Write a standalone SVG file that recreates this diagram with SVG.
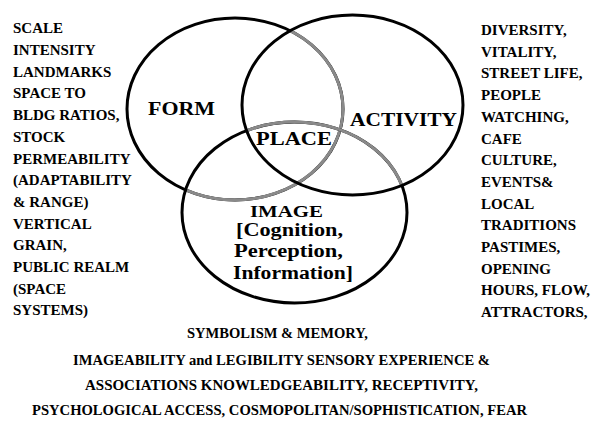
<svg xmlns="http://www.w3.org/2000/svg" width="595" height="426" viewBox="0 0 595 426">
<style>
.ring{fill:none;stroke:#000;stroke-width:3}
.gray{fill:none;stroke:#8a8a8a;stroke-width:3}
</style>
<rect width="595" height="426" fill="#fff"/>
<g id="form">
<path class="ring" d="M127,109 A108,91 0 1 0 343,109 A108,91 0 1 0 127,109 Z"/>
<path class="gray" d="M289.97,30.68 A108,91 0 0 1 185.63,189.94"/>
<text font-family="Liberation Serif" font-weight="bold" font-size="18" x="148" y="115" textLength="67" lengthAdjust="spacingAndGlyphs">FORM</text>
</g>
<g id="image">
<path class="ring" d="M182,212.5 A112.5,90.5 0 1 0 407,212.5 A112.5,90.5 0 1 0 182,212.5 Z"/>
<path class="gray" d="M246.6,130.61 A112.5,90.5 0 0 1 401.8,185.3"/>
<text font-family="Liberation Serif" font-weight="bold" font-size="17" x="250" y="217" textLength="73" lengthAdjust="spacingAndGlyphs">IMAGE</text>
<text font-family="Liberation Serif" font-weight="bold" font-size="18" x="236" y="235.5" textLength="107" lengthAdjust="spacingAndGlyphs">[Cognition,</text>
<text font-family="Liberation Serif" font-weight="bold" font-size="18" x="234" y="257" textLength="109" lengthAdjust="spacingAndGlyphs">Perception,</text>
<text font-family="Liberation Serif" font-weight="bold" font-size="18" x="233" y="279" textLength="120" lengthAdjust="spacingAndGlyphs">Information]</text>
</g>
<g id="activity">
<path class="ring" d="M242,105 A110.5,90 0 1 0 463,105 A110.5,90 0 1 0 242,105 Z"/>
<text font-family="Liberation Serif" font-weight="bold" font-size="19" x="350" y="126" textLength="107" lengthAdjust="spacingAndGlyphs">ACTIVITY</text>
</g>
<g id="place">
<text font-family="Liberation Serif" font-weight="bold" font-size="18" x="256" y="145" textLength="76" lengthAdjust="spacingAndGlyphs">PLACE</text>
</g>
<g id="connectors"></g>
<g id="form-list">
<text font-family="Liberation Serif" font-weight="bold" font-size="15" x="13" y="33.3">SCALE</text>
<text font-family="Liberation Serif" font-weight="bold" font-size="15" x="13" y="55">INTENSITY</text>
<text font-family="Liberation Serif" font-weight="bold" font-size="15" x="13" y="76.7">LANDMARKS</text>
<text font-family="Liberation Serif" font-weight="bold" font-size="15" x="13" y="98.4">SPACE TO</text>
<text font-family="Liberation Serif" font-weight="bold" font-size="15" x="13" y="120.1">BLDG RATIOS,</text>
<text font-family="Liberation Serif" font-weight="bold" font-size="15" x="13" y="141.8">STOCK</text>
<text font-family="Liberation Serif" font-weight="bold" font-size="15" x="13" y="163.5">PERMEABILITY</text>
<text font-family="Liberation Serif" font-weight="bold" font-size="15" x="13" y="185.2">(ADAPTABILITY</text>
<text font-family="Liberation Serif" font-weight="bold" font-size="15" x="13" y="206.9">&amp; RANGE)</text>
<text font-family="Liberation Serif" font-weight="bold" font-size="15" x="13" y="228.6">VERTICAL</text>
<text font-family="Liberation Serif" font-weight="bold" font-size="15" x="13" y="250.3">GRAIN,</text>
<text font-family="Liberation Serif" font-weight="bold" font-size="15" x="13" y="272">PUBLIC REALM</text>
<text font-family="Liberation Serif" font-weight="bold" font-size="15" x="13" y="293.7">(SPACE</text>
<text font-family="Liberation Serif" font-weight="bold" font-size="15" x="13" y="315">SYSTEMS)</text>
</g>
<g id="activity-list">
<text font-family="Liberation Serif" font-weight="bold" font-size="15" x="481" y="35">DIVERSITY,</text>
<text font-family="Liberation Serif" font-weight="bold" font-size="15" x="481" y="56.7">VITALITY,</text>
<text font-family="Liberation Serif" font-weight="bold" font-size="15" x="481" y="78.4">STREET LIFE,</text>
<text font-family="Liberation Serif" font-weight="bold" font-size="15" x="481" y="100.1">PEOPLE</text>
<text font-family="Liberation Serif" font-weight="bold" font-size="15" x="481" y="121.8">WATCHING,</text>
<text font-family="Liberation Serif" font-weight="bold" font-size="15" x="481" y="143.5">CAFE</text>
<text font-family="Liberation Serif" font-weight="bold" font-size="15" x="481" y="165.2">CULTURE,</text>
<text font-family="Liberation Serif" font-weight="bold" font-size="15" x="481" y="186.9">EVENTS&amp;</text>
<text font-family="Liberation Serif" font-weight="bold" font-size="15" x="481" y="208.6">LOCAL</text>
<text font-family="Liberation Serif" font-weight="bold" font-size="15" x="481" y="230.3">TRADITIONS</text>
<text font-family="Liberation Serif" font-weight="bold" font-size="15" x="481" y="252">PASTIMES,</text>
<text font-family="Liberation Serif" font-weight="bold" font-size="15" x="481" y="273.7">OPENING</text>
<text font-family="Liberation Serif" font-weight="bold" font-size="15" x="481" y="295.4">HOURS, FLOW,</text>
<text font-family="Liberation Serif" font-weight="bold" font-size="15" x="481" y="317.1">ATTRACTORS,</text>
</g>
<g id="image-list">
<text font-family="Liberation Serif" font-weight="bold" font-size="15" text-anchor="middle" x="277.5" y="338" textLength="181" lengthAdjust="spacingAndGlyphs">SYMBOLISM &amp; MEMORY,</text>
<text font-family="Liberation Serif" font-weight="bold" font-size="15" text-anchor="middle" x="281.5" y="365" textLength="417" lengthAdjust="spacingAndGlyphs">IMAGEABILITY and LEGIBILITY SENSORY EXPERIENCE &amp;</text>
<text font-family="Liberation Serif" font-weight="bold" font-size="15" text-anchor="middle" x="281.5" y="390" textLength="393" lengthAdjust="spacingAndGlyphs">ASSOCIATIONS KNOWLEDGEABILITY, RECEPTIVITY,</text>
<text font-family="Liberation Serif" font-weight="bold" font-size="15" text-anchor="middle" x="279.5" y="415" textLength="495" lengthAdjust="spacingAndGlyphs">PSYCHOLOGICAL ACCESS, COSMOPOLITAN/SOPHISTICATION, FEAR</text>
</g>
</svg>
